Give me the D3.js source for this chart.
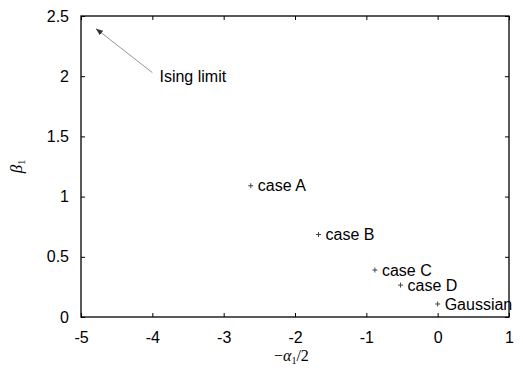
<!DOCTYPE html>
<html>
<head>
<meta charset="utf-8">
<script src="https://cdn.jsdelivr.net/npm/d3@7"></script>
<style>
body { margin: 0; background: #fff; }
svg text { font-family: "Liberation Sans", Arial, sans-serif; }
</style>
</head>
<body>
<svg id="chart" width="523" height="373"></svg>
<script>
'use strict';

//Data points.
const cases = ['case A', 'case B', 'case C', 'case D', 'Gaussian'];
const xVals = [-2.62, -1.67, -0.88, -0.52, 0.0];
const yVals = [1.09, 0.685, 0.39, 0.265, 0.108];
const xTicks = [-5, -4, -3, -2, -1, 0, 1];
const yTicks = [0, 0.5, 1, 1.5, 2, 2.5];
//Arrow: tail then head, and label.
const arrowFrom = [-4.0, 2.03];
const arrowTo = [-4.79, 2.395];
const arrowLabel = {text: 'Ising limit', x: -3.9, y: 2.0};

const width = 523;
const height = 373;
const margin = {top: 16, right: 14, bottom: 56, left: 81};
const innerWidth = width - margin.left - margin.right;
const innerHeight = height - margin.top - margin.bottom;
const fs = 16; //font size used for all sans text

const svg = d3.select('#chart');
const g = svg.append('g').attr('transform', `translate(${margin.left},${margin.top})`);

const xScale = d3.scaleLinear().domain([-5, 1]).range([0, innerWidth]);
const yScale = d3.scaleLinear().domain([0, 2.5]).range([innerHeight, 0]);

//Axes with inward ticks, mirrored on top and right. Plain hyphen for negatives.
const tl = 4;
const fmt = (d) => String(d);
g.append('g').attr('transform', `translate(0,${innerHeight})`)
	.call(d3.axisBottom(xScale).tickValues(xTicks).tickSize(-tl).tickPadding(15).tickFormat(fmt));
const topAx = g.append('g')
	.call(d3.axisTop(xScale).tickValues(xTicks).tickSize(-tl));
g.append('g')
	.call(d3.axisLeft(yScale).tickValues(yTicks).tickSize(-tl).tickPadding(12).tickFormat(fmt));
const rightAx = g.append('g').attr('transform', `translate(${innerWidth},0)`)
	.call(d3.axisRight(yScale).tickValues(yTicks).tickSize(-tl));
topAx.selectAll('text').remove();
rightAx.selectAll('text').remove();
g.selectAll('.domain').remove();
g.selectAll('.tick line').attr('stroke', '#000').attr('stroke-width', 1);
g.selectAll('.tick text').attr('font-size', fs).attr('fill', '#000')
	.style('font-family', '"Liberation Sans", Arial, sans-serif');

//Border.
g.append('rect')
	.attr('x', 0).attr('y', 0)
	.attr('width', innerWidth).attr('height', innerHeight)
	.attr('fill', 'none').attr('stroke', '#000').attr('stroke-width', 1.3);

//Points as small plus marks.
const data = cases.map((c, i) => ({name: c, x: xVals[i], y: yVals[i]}));
const pts = g.selectAll('.pt').data(data).enter().append('g')
	.attr('class', 'pt')
	.attr('transform', (d) => `translate(${xScale(d.x)},${yScale(d.y)})`);
pts.append('path').attr('d', 'M-2.5,0H2.5M0,-2.5V2.5')
	.attr('stroke', '#444').attr('stroke-width', 1);
pts.append('text')
	.attr('x', 7).attr('dy', '0.35em')
	.attr('font-size', fs).attr('fill', '#000')
	.text((d) => d.name);

//Arrow pointing to Ising limit.
svg.append('defs').append('marker')
	.attr('id', 'head').attr('viewBox', '0 0 10 10')
	.attr('refX', 10).attr('refY', 5)
	.attr('markerWidth', 7).attr('markerHeight', 7)
	.attr('markerUnits', 'userSpaceOnUse')
	.attr('orient', 'auto')
	.append('path').attr('d', 'M0,1L10,5L0,9Z').attr('fill', '#333');
g.append('line')
	.attr('x1', xScale(arrowFrom[0])).attr('y1', yScale(arrowFrom[1]))
	.attr('x2', xScale(arrowTo[0])).attr('y2', yScale(arrowTo[1]))
	.attr('stroke', '#777').attr('stroke-width', 0.8)
	.attr('marker-end', 'url(#head)');
g.append('text')
	.attr('x', xScale(arrowLabel.x)).attr('y', yScale(arrowLabel.y))
	.attr('dy', '0.35em').attr('font-size', fs).attr('fill', '#000')
	.text(arrowLabel.text);

//Axis titles in serif italic.
const xt = svg.append('text')
	.attr('x', margin.left + xScale(-2.05)).attr('y', 361)
	.attr('text-anchor', 'middle').attr('font-size', 16)
	.style('font-family', '"Liberation Serif", serif');
xt.append('tspan').text('\u2212');
xt.append('tspan').attr('font-style', 'italic').text('\u03b1');
xt.append('tspan').attr('font-size', 10).attr('dy', 3).text('1');
xt.append('tspan').attr('dy', -3).text('/2');

const yt = svg.append('text')
	.attr('transform', `translate(22,${margin.top + yScale(1.25)}) rotate(-90)`)
	.attr('text-anchor', 'middle').attr('font-size', 17)
	.style('font-family', '"Liberation Serif", serif');
yt.append('tspan').attr('font-style', 'italic').text('\u03b2');
yt.append('tspan').attr('font-size', 10).attr('dy', 3).text('1');
</script>
</body>
</html>
